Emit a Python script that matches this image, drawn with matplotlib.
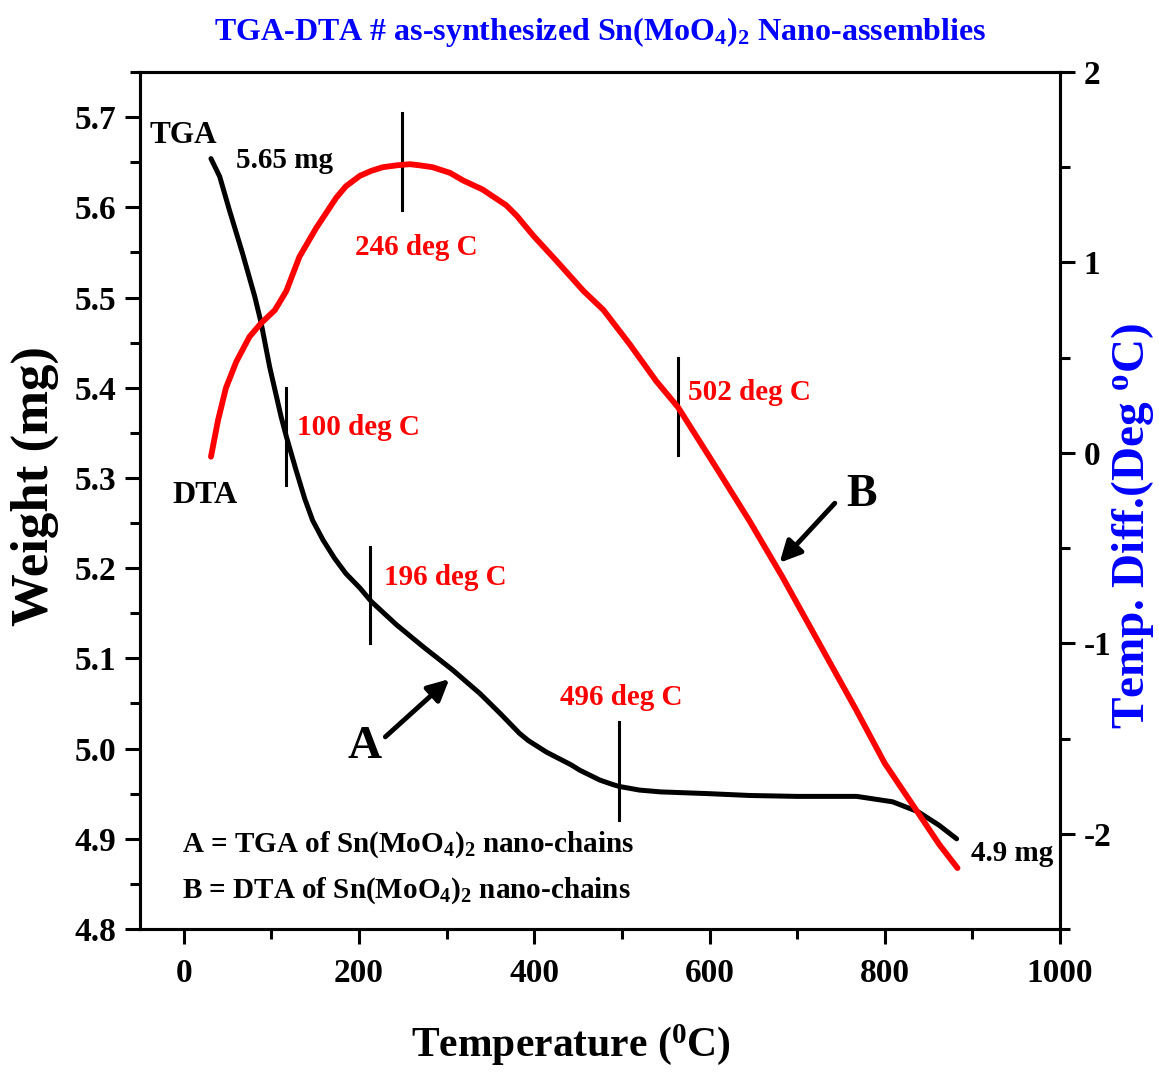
import numpy as np
import matplotlib
matplotlib.use('Agg')
import matplotlib.pyplot as plt
from matplotlib.ticker import MultipleLocator, FormatStrFormatter

plt.rcParams['font.family'] = ['Liberation Serif', 'DejaVu Serif']
plt.rcParams['font.weight'] = 'bold'
plt.rcParams['axes.unicode_minus'] = False
plt.rcParams['mathtext.fontset'] = 'custom'
plt.rcParams['mathtext.rm'] = 'Liberation Serif:bold'
plt.rcParams['mathtext.bf'] = 'Liberation Serif:bold'
plt.rcParams['mathtext.it'] = 'Liberation Serif:bold'

# TGA (weight, mg)
tga_temp = [31, 41, 52, 67, 81, 88, 98, 111, 117, 128, 138, 147, 159, 172, 185,
            201, 214, 243, 273, 307, 338, 361, 383, 393, 414, 442, 452, 475, 490,
            497, 520, 544, 600, 646, 700, 768, 809, 838, 862, 882]
tga_weight = [5.654, 5.634, 5.597, 5.549, 5.501, 5.473, 5.423, 5.368, 5.346, 5.309,
              5.277, 5.253, 5.231, 5.211, 5.194, 5.178, 5.163, 5.137, 5.113, 5.087,
              5.061, 5.039, 5.017, 5.009, 4.996, 4.982, 4.976, 4.965, 4.960, 4.958,
              4.954, 4.952, 4.950, 4.948, 4.947, 4.947, 4.941, 4.930, 4.915, 4.900]

# DTA (temperature difference, deg C)
dta_temp = [31, 39, 48, 60, 75, 88, 104, 117, 132, 151, 174, 185, 201, 214, 227,
            243, 258, 269, 284, 304, 319, 341, 368, 380, 399, 425, 456, 479, 509,
            539, 564, 608, 646, 683, 730, 768, 800, 838, 862, 883]
dta_diff = [-0.02, 0.17, 0.34, 0.48, 0.61, 0.68, 0.75, 0.85, 1.03, 1.18, 1.34,
            1.40, 1.455, 1.481, 1.50, 1.51, 1.516, 1.51, 1.50, 1.47, 1.43, 1.383,
            1.30, 1.245, 1.14, 1.01, 0.851, 0.75, 0.57, 0.378, 0.24, -0.08, -0.36,
            -0.65, -1.04, -1.355, -1.63, -1.89, -2.055, -2.18]

# marked temperatures: (x, y from, y to, label, label x, label y) in TGA axis units
marks = [(117, 5.400, 5.292, '100 deg C', 129, 5.356),
         (249, 5.704, 5.597, '246 deg C', 195, 5.556),
         (213, 5.224, 5.117, '196 deg C', 228, 5.190),
         (564, 5.433, 5.325, '502 deg C', 576, 5.395),
         (497, 5.030, 4.921, '496 deg C', 429, 5.057)]

fig = plt.figure(figsize=(11.59, 10.72), dpi=100)
ax = fig.add_axes([140 / 1159, 1 - 929 / 1072, 920 / 1159, 857 / 1072])
ax2 = ax.twinx()

ax.plot(tga_temp, tga_weight, color='black', lw=3.6, solid_capstyle='round',
        solid_joinstyle='round', zorder=3)
ax2.plot(dta_temp, dta_diff, color='red', lw=4.2, solid_capstyle='round',
         solid_joinstyle='round', zorder=3)

ax.set_xlim(-50, 1000)
ax.set_ylim(4.8, 5.75)
ax2.set_ylim(-2.5, 2)

ax.xaxis.set_major_locator(MultipleLocator(200))
ax.xaxis.set_minor_locator(MultipleLocator(100))
ax.yaxis.set_major_locator(MultipleLocator(0.1))
ax.yaxis.set_minor_locator(MultipleLocator(0.05))
ax.yaxis.set_major_formatter(FormatStrFormatter('%.1f'))
ax2.yaxis.set_major_locator(MultipleLocator(1))
ax2.yaxis.set_minor_locator(MultipleLocator(0.5))

for a in (ax, ax2):
    for s in a.spines.values():
        s.set_linewidth(2.2)
    a.tick_params(which='both', direction='out', width=2.2, labelsize=24)
    a.tick_params(which='major', length=11)
    a.tick_params(which='minor', length=7)
ax.tick_params(axis='x', pad=10, top=False)
ax.tick_params(axis='y', pad=6, right=False)
ax2.tick_params(axis='y', pad=6)

for m in marks:
    ax.plot([m[0], m[0]], [m[1], m[2]], color='black', lw=2.2, zorder=4)
    ax.text(m[4], m[5], m[3], color='red', fontsize=21, va='center', ha='left')

ax.text(-39, 5.680, 'TGA', fontsize=22.5, va='center')
ax.text(60, 5.652, '5.65 mg', fontsize=21, va='center')
ax.text(-13, 5.281, 'DTA', fontsize=23, va='center')
ax.text(898, 4.884, '4.9 mg', fontsize=21, va='center')
ax.text(-1.5, 4.893, r'A = TGA of Sn(MoO$_{\mathrm{4}}$)$_{\mathrm{2}}$ nano-chains',
        fontsize=21, va='center')
ax.text(-1.5, 4.843, r'B = DTA of Sn(MoO$_{\mathrm{4}}$)$_{\mathrm{2}}$ nano-chains',
        fontsize=21, va='center')

ax.text(206, 5.002, 'A', fontsize=34, ha='center', va='center')
ax.text(773, 5.281, 'B', fontsize=33, ha='center', va='center')
arrow = dict(arrowstyle='-|>', color='black', lw=3.5, mutation_scale=32,
             shrinkA=0, shrinkB=0)
ax.annotate('', xy=(303, 5.077), xytext=(230, 5.013), arrowprops=arrow)
ax.annotate('', xy=(680, 5.206), xytext=(743, 5.272), arrowprops=arrow)

fig.text(600 / 1159, 1 - 32 / 1072,
         r'TGA-DTA # as-synthesized Sn(MoO$_{\mathrm{4}}$)$_{\mathrm{2}}$ Nano-assemblies',
         color='blue', fontsize=23, ha='center', va='center')
fig.text(571 / 1159, 1 - 1045 / 1072, r'Temperature ($^{\mathrm{0}}$C)',
         fontsize=30, ha='center', va='center')
fig.text(35 / 1159, 1 - 486 / 1072, 'Weight (mg)', fontsize=38,
         rotation=90, ha='center', va='center')
fig.text(1133 / 1159, 1 - 526 / 1072, r'Temp. Diff.(Deg $^{\mathrm{o}}$C)',
         color='blue', fontsize=34, rotation=90, ha='center', va='center')

fig.savefig('out.png', dpi=100)
